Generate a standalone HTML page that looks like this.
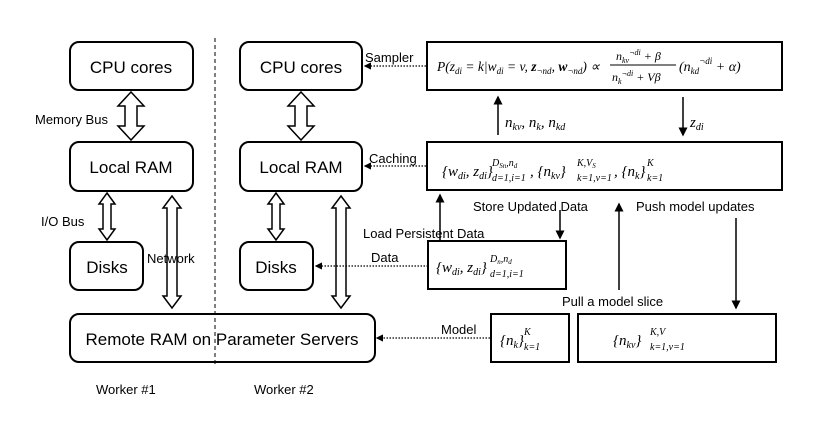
<!DOCTYPE html>
<html><head><style>body{margin:0;background:#fff}svg{display:block}
.t{font-family:"Liberation Sans",sans-serif;font-size:17px;fill:#000}
.s{font-family:"Liberation Sans",sans-serif;font-size:13px;fill:#000}
.m{font-family:"Liberation Serif",serif;font-style:italic;fill:#000}
</style></head><body>
<svg width="832" height="424" viewBox="0 0 832 424" xmlns="http://www.w3.org/2000/svg">
<defs><marker id="a" markerWidth="6" markerHeight="6" refX="5" refY="3" orient="auto"><path d="M0,0 L6,3 L0,6 Z" fill="#000"/></marker></defs>
<g fill="#fff" stroke="#000" stroke-width="2">
<rect x="70" y="42" width="123" height="48" rx="9"/>
<rect x="70" y="142" width="123" height="49" rx="9"/>
<rect x="70" y="242" width="73" height="48" rx="9"/>
<rect x="70" y="314" width="305" height="48" rx="9"/>
<rect x="240" y="42" width="122" height="48" rx="9"/>
<rect x="240" y="142" width="122" height="49" rx="9"/>
<rect x="240" y="242" width="73" height="48" rx="9"/>
<rect x="427" y="42" width="355" height="48"/>
<rect x="427" y="142" width="355" height="48"/>
<rect x="428" y="241" width="138" height="48"/>
<rect x="491" y="314" width="78" height="48"/>
<rect x="578" y="314" width="198" height="48"/>
</g>
<line x1="215" y1="38" x2="215" y2="366" stroke="#000" stroke-width="1" stroke-dasharray="4,3"/>
<g fill="#fff" stroke="#000" stroke-width="1.5">
<path d="M131,92 L144,106 L137,106 L137,126 L144,126 L131,140 L118,126 L125,126 L125,106 L118,106 Z"/>
<path d="M301,92 L314,106 L307,106 L307,126 L314,126 L301,140 L288,126 L295,126 L295,106 L288,106 Z"/>
<path d="M107,193 L115,204 L111,204 L111,229 L115,229 L107,240 L99,229 L103,229 L103,204 L99,204 Z"/>
<path d="M276,193 L284,204 L280,204 L280,229 L284,229 L276,240 L268,229 L272,229 L272,204 L268,204 Z"/>
<path d="M172,196 L181,208 L177,208 L177,296 L181,296 L172,308 L163,296 L167,296 L167,208 L163,208 Z"/>
<path d="M341,196 L350,208 L346,208 L346,296 L350,296 L341,308 L332,296 L336,296 L336,208 L332,208 Z"/>
</g>
<g stroke="#000" stroke-width="1.2" stroke-dasharray="1.5,1.5" fill="none">
<line x1="426" y1="66" x2="365" y2="66" marker-end="url(#a)"/>
<line x1="426" y1="166" x2="365" y2="166" marker-end="url(#a)"/>
<line x1="428" y1="266" x2="316" y2="266" marker-end="url(#a)"/>
<line x1="490" y1="338" x2="377" y2="338" marker-end="url(#a)"/>
</g>
<g stroke="#000" stroke-width="1.5" fill="none">
<line x1="498" y1="135" x2="498" y2="97" marker-end="url(#a)"/>
<line x1="683" y1="97" x2="683" y2="135" marker-end="url(#a)"/>
<line x1="440" y1="240" x2="440" y2="195" marker-end="url(#a)"/>
<line x1="560" y1="210" x2="560" y2="238" marker-end="url(#a)"/>
<line x1="619" y1="290" x2="619" y2="204" marker-end="url(#a)"/>
<line x1="736" y1="218" x2="736" y2="308" marker-end="url(#a)"/>
</g>
<text class="t" x="131" y="73" text-anchor="middle">CPU cores</text>
<text class="t" x="131" y="173" text-anchor="middle">Local RAM</text>
<text class="t" x="107" y="273" text-anchor="middle">Disks</text>
<text class="t" x="222" y="345" text-anchor="middle">Remote RAM on Parameter Servers</text>
<text class="t" x="301" y="73" text-anchor="middle">CPU cores</text>
<text class="t" x="301" y="173" text-anchor="middle">Local RAM</text>
<text class="t" x="276" y="273" text-anchor="middle">Disks</text>
<text class="s" x="35" y="124">Memory Bus</text>
<text class="s" x="41" y="226">I/O Bus</text>
<text class="s" x="147" y="263">Network</text>
<text class="s" x="96" y="394">Worker #1</text>
<text class="s" x="254" y="394">Worker #2</text>
<text class="s" x="365" y="62">Sampler</text>
<text class="s" x="369" y="163">Caching</text>
<text class="s" x="371" y="262">Data</text>
<text class="s" x="441" y="334">Model</text>
<text class="s" x="473" y="211">Store Updated Data</text>
<text class="s" x="636" y="211">Push model updates</text>
<text class="s" x="363" y="238">Load Persistent Data</text>
<text class="s" x="562" y="306">Pull a model slice</text>
<text class="m" font-size="13.5" x="437" y="71">P(z<tspan font-size="9" dy="3">di</tspan><tspan dy="-3"> = k|w</tspan><tspan font-size="9" dy="3">di</tspan><tspan dy="-3"> = v, </tspan><tspan font-weight="bold">z</tspan><tspan font-size="9" dy="3">¬nd</tspan><tspan dy="-3">, </tspan><tspan font-weight="bold">w</tspan><tspan font-size="9" dy="3">¬nd</tspan><tspan dy="-3">) ∝</tspan></text>
<text class="m" font-size="12" x="616" y="60">n<tspan font-size="8" dy="3">kv</tspan><tspan font-size="8" dy="-8">¬di</tspan><tspan dy="5"> + β</tspan></text>
<line x1="610" y1="65" x2="676" y2="65" stroke="#000" stroke-width="1"/>
<text class="m" font-size="12" x="612" y="81">n<tspan font-size="8" dy="3">k</tspan><tspan font-size="8" dy="-8">¬di</tspan><tspan dy="5"> + Vβ</tspan></text>
<text class="m" font-size="14" x="679" y="71">(n<tspan font-size="9" dy="3">kd</tspan><tspan font-size="9" dy="-10">¬di</tspan><tspan dy="7"> + α)</tspan></text>
<text class="m" font-size="15" x="505" y="127">n<tspan font-size="10" dy="3">kv</tspan><tspan dy="-3">, n</tspan><tspan font-size="10" dy="3">k</tspan><tspan dy="-3">, n</tspan><tspan font-size="10" dy="3">kd</tspan></text>
<text class="m" font-size="15" x="690" y="127">z<tspan font-size="10" dy="3">di</tspan></text>
<text class="m" font-size="15" x="442" y="176">{w<tspan font-size="10" dy="3">di</tspan><tspan dy="-3">, z</tspan><tspan font-size="10" dy="3">di</tspan><tspan dy="-3">}</tspan></text>
<text class="m" font-size="10" x="492" y="166">D<tspan font-size="7" dy="2">Sn</tspan><tspan dy="-2">,n</tspan><tspan font-size="7" dy="2">d</tspan></text>
<text class="m" font-size="10" x="492" y="181">d=1,i=1</text>
<text class="m" font-size="15" x="530" y="176">, {n<tspan font-size="10" dy="3">kv</tspan><tspan dy="-3">}</tspan></text>
<text class="m" font-size="10" x="577" y="166">K,V<tspan font-size="7" dy="2">S</tspan></text>
<text class="m" font-size="10" x="577" y="181">k=1,v=1</text>
<text class="m" font-size="15" x="614" y="176">, {n<tspan font-size="10" dy="3">k</tspan><tspan dy="-3">}</tspan></text>
<text class="m" font-size="10" x="647" y="166">K</text>
<text class="m" font-size="10" x="647" y="181">k=1</text>
<text class="m" font-size="15" x="436" y="272">{w<tspan font-size="10" dy="3">di</tspan><tspan dy="-3">, z</tspan><tspan font-size="10" dy="3">di</tspan><tspan dy="-3">}</tspan></text>
<text class="m" font-size="10" x="490" y="262">D<tspan font-size="7" dy="2">n</tspan><tspan dy="-2">,n</tspan><tspan font-size="7" dy="2">d</tspan></text>
<text class="m" font-size="10" x="490" y="277">d=1,i=1</text>
<text class="m" font-size="15" x="500" y="345">{n<tspan font-size="10" dy="3">k</tspan><tspan dy="-3">}</tspan></text>
<text class="m" font-size="10" x="524" y="335">K</text>
<text class="m" font-size="10" x="524" y="350">k=1</text>
<text class="m" font-size="15" x="613" y="345">{n<tspan font-size="10" dy="3">kv</tspan><tspan dy="-3">}</tspan></text>
<text class="m" font-size="10" x="650" y="335">K,V</text>
<text class="m" font-size="10" x="650" y="350">k=1,v=1</text>
</svg>
</body></html>
